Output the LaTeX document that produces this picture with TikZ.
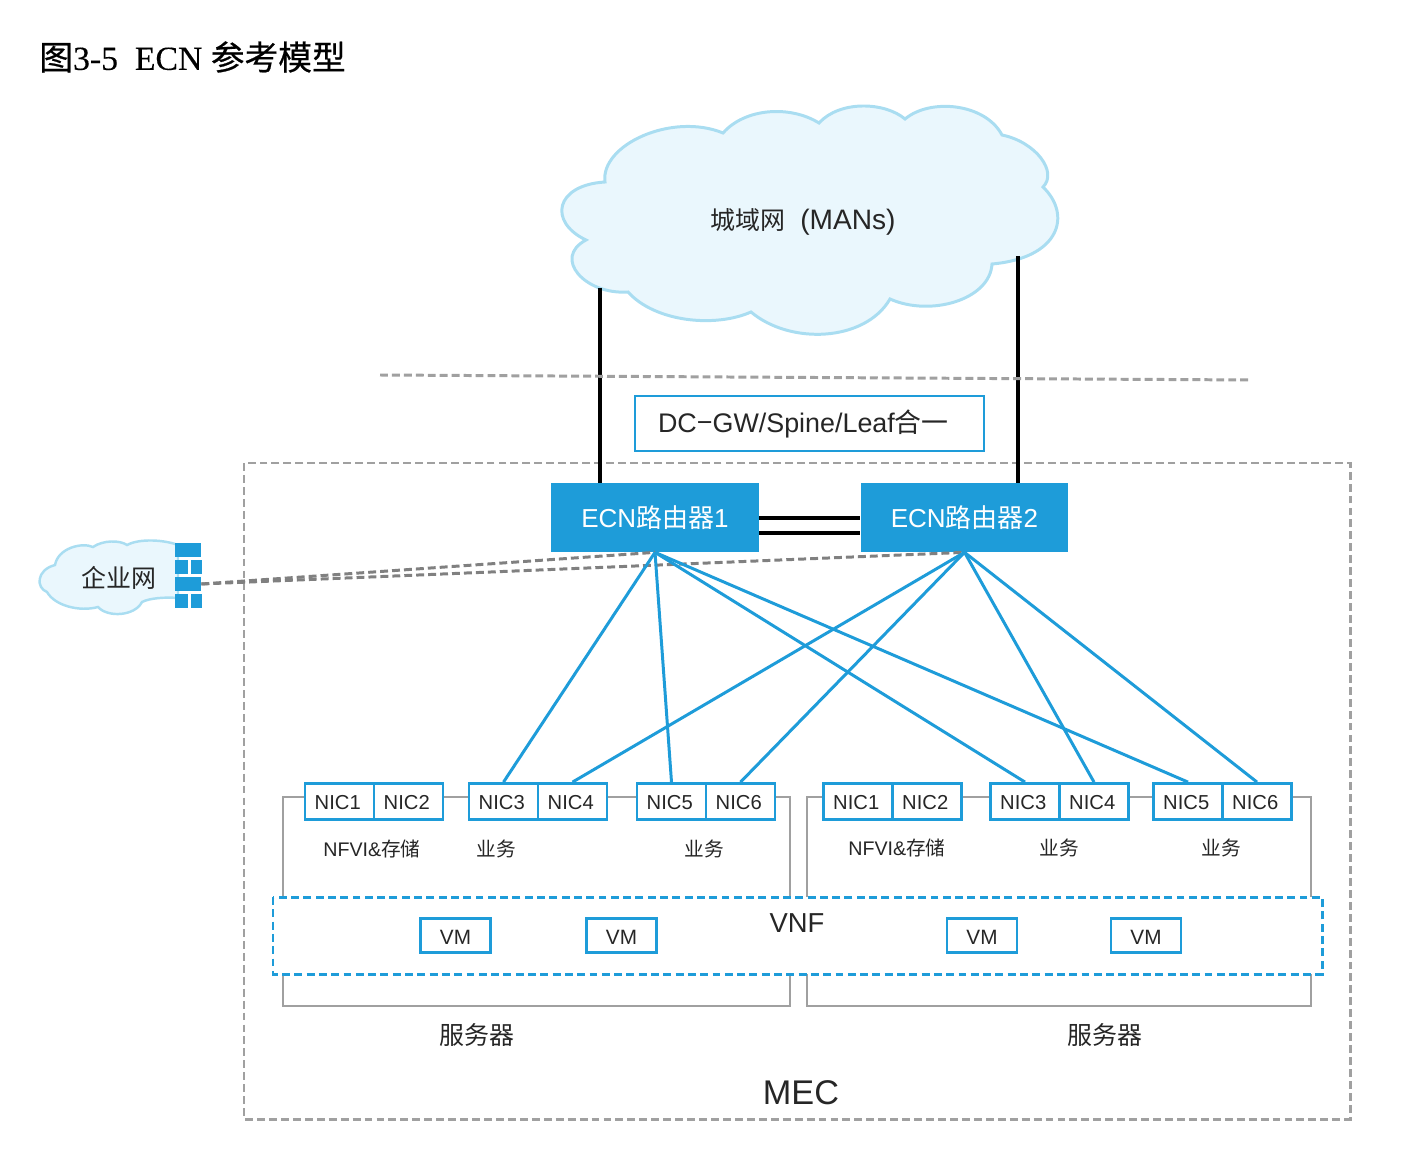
\documentclass[tikz,border=0pt]{standalone}
\usepackage{fontspec}
\setmainfont{Liberation Sans}
\newfontfamily\cjk{Noto Sans CJK SC}
\newfontfamily\titlecjk[FakeBold=0.6]{Noto Sans CJK SC}
\newfontfamily\titlefont[FakeBold=0.25]{Liberation Serif}
\definecolor{ecnblue}{HTML}{1E9CD9}
\definecolor{cloudfill}{HTML}{EAF7FD}
\definecolor{cloudline}{HTML}{A9DDF1}
\definecolor{framegray}{HTML}{A0A0A0}
\definecolor{textdark}{HTML}{262626}
\newcommand{\fs}[1]{\fontsize{#1}{#1}\selectfont}
\newcommand{\lowtext}[1]{\raisebox{-0.42em}[0pt][0pt]{#1}}

\begin{document}
\begin{tikzpicture}[x=0.02cm, y=-0.02cm, text=textdark,
    cloudshape/.style={draw=cloudline, fill=cloudfill, line width=1.7pt},
    router/.style={fill=ecnblue, text=white, minimum width=4.16cm, minimum height=1.38cm, inner sep=0pt, font=\fs{14.8}},
    nic/.style={draw=ecnblue, fill=white, line width=1.6pt, minimum width=1.38cm, minimum height=0.72cm, inner sep=0pt, font=\fs{11.5}},
    vm/.style={draw=ecnblue, fill=white, line width=1.6pt, minimum width=1.4cm, minimum height=0.68cm, inner sep=0pt, font=\fs{11.8}},
    brick/.style={fill=ecnblue, inner sep=0pt, minimum height=0.28cm},
    srv/.style={draw=framegray, line width=1.65pt},
    uplink/.style={black, line width=1.75pt},
    fabric/.style={ecnblue, line width=1.7pt},
    grayline/.style={draw=framegray, line width=1.7pt, dash pattern=on 4.5pt off 2.3pt},
    lbl/.style={inner sep=0pt, font=\fs{11.2}}]
  \useasboundingbox (0,0) rectangle (1412,1158);

  \node[anchor=west, inner sep=0pt, text=black] (title) at (39,57)
    {\fs{19.2}{\titlecjk 图}\titlefont 3-5\hspace{0.5em}ECN {\titlecjk 参考模型}};

  % MEC border and routers
  \draw[grayline] (244,463) rectangle (1350,1119);
  \node[router] (r1) at (655,517.5) {ECN{\cjk 路由器}1};
  \node[router] (r2) at (964.5,517.5) {ECN{\cjk 路由器}2};
  \draw[uplink] ([yshift=-0.01cm]r1.east) -- ([yshift=-0.01cm]r2.west);
  \draw[uplink] ([yshift=-0.31cm]r1.east) -- ([yshift=-0.31cm]r2.west);

  % cloud on top
  \draw[cloudshape] (605,182) .. controls (600,145) and (672,112) .. (723,133)
    .. controls (745,108) and (790,105) .. (819,123)
    .. controls (840,100) and (885,102) .. (905,119)
    .. controls (930,98) and (985,103) .. (1002,135)
    .. controls (1036,142) and (1058,172) .. (1043,187)
    .. controls (1072,215) and (1060,258) .. (992,264)
    .. controls (990,300) and (930,317) .. (890,299)
    .. controls (865,342) and (790,345) .. (751,312)
    .. controls (715,328) and (655,322) .. (628,292)
    .. controls (585,295) and (552,258) .. (586,240)
    .. controls (548,222) and (555,185) .. (605,182) -- cycle;
  \node[inner sep=0pt, font=\fs{14.2}] (man) at (803,222)
    {{\cjk 城域网}\hspace{0.6em}{\fs{16}(MANs)}};
  \coordinate (manl) at (600,288);
  \coordinate (manr) at (1018,256);
  \draw[uplink] (manl) -- (manl |- r1.north);
  \draw[uplink] (manr) -- (manr |- r2.north);

  \draw[grayline] (380,375) -- (1252,380);
  \node[draw=ecnblue, line width=1.6pt, minimum width=6.98cm, minimum height=1.1cm, inner sep=0pt, font=\fs{15.3}] (gw) at (809.5,423.5)
    {\raisebox{-0.33em}[0pt][0pt]{DC{\raisebox{0.05em}{−}}GW/Spine/Leaf{\cjk 合一}}\kern 7pt};

  % enterprise network
  \draw[cloudshape, line width=1.4pt] (55,565) .. controls (58,548) and (82,542) .. (93,547)
    .. controls (103,540) and (120,540) .. (127,545)
    .. controls (140,538) and (165,540) .. (178,545)
    -- (178,598) .. controls (165,597) and (150,598) .. (142,602)
    .. controls (135,616) and (108,618) .. (98,607)
    .. controls (80,612) and (55,606) .. (47,592)
    .. controls (36,588) and (36,570) .. (55,565) -- cycle;
  \node[inner sep=0pt, font=\fs{14.2}] (ent) at (119,578) {\cjk 企业网};
  \node[brick, minimum width=0.52cm] (fw1) at (188,549.5) {};
  \node[brick, minimum width=0.26cm] (fw2a) at (181.5,566.5) {};
  \node[brick, minimum width=0.22cm] (fw2b) at (196,566.5) {};
  \node[brick, minimum width=0.52cm] (fw3) at (188,584) {};
  \node[brick, minimum width=0.26cm] (fw4a) at (181.5,601) {};
  \node[brick, minimum width=0.22cm] (fw4b) at (196,601) {};
  \draw[grayline, draw=gray] (fw3.east) -- (r1.south);
  \draw[grayline, draw=gray] (fw3.east) -- (r2.south);

  % servers
  \draw[srv] (283,797) rectangle (790,1006);
  \draw[srv] (807,797) rectangle (1311,1006);

  \foreach \s/\x/\t in {a1/339.5/NIC1, a2/408.5/NIC2, a3/503.5/NIC3, a4/572.5/NIC4, a5/671.5/NIC5, a6/740.5/NIC6,
      b1/858/NIC1, b2/927/NIC2, b3/1025/NIC3, b4/1094/NIC4, b5/1188/NIC5, b6/1257/NIC6}
    \node[nic] (\s) at (\x,801.5) {\lowtext{\t}\kern 2pt};

  \foreach \s in {a3,a5,b3,b5}
    \draw[fabric] (r1.south) -- (\s.north);
  \foreach \s in {a4,a6,b4,b6}
    \draw[fabric] (r2.south) -- (\s.north);

  \node[lbl] (la) at (372,849) {NFVI\&{\cjk 存储}};
  \node[lbl] (lb) at (496,849) {\cjk 业务};
  \node[lbl] (lc) at (704,849) {\cjk 业务};
  \node[lbl] (ld) at (897,848) {NFVI\&{\cjk 存储}};
  \node[lbl] (le) at (1059,848) {\cjk 业务};
  \node[lbl] (lf) at (1221,848) {\cjk 业务};

  % VNF
  \draw[ecnblue, fill=white, line width=1.7pt, dash pattern=on 4.5pt off 2.5pt] (273,897) rectangle (1322,974);
  \node[inner sep=0pt, font=\fs{15.6}] (vnf) at (797,923) {VNF};
  \foreach \s/\x in {m1/455.5, m2/621.5, m3/982, m4/1146}
    \node[vm] (\s) at (\x,935.5) {\lowtext{VM}};

  \node[inner sep=0pt, font=\fs{14.2}] (sa) at (477,1035) {\cjk 服务器};
  \node[inner sep=0pt, font=\fs{14.2}] (sb) at (1105,1035) {\cjk 服务器};
  \node[inner sep=0pt, font=\fs{19.5}] (mec) at (801,1093) {MEC};
\end{tikzpicture}
\end{document}
